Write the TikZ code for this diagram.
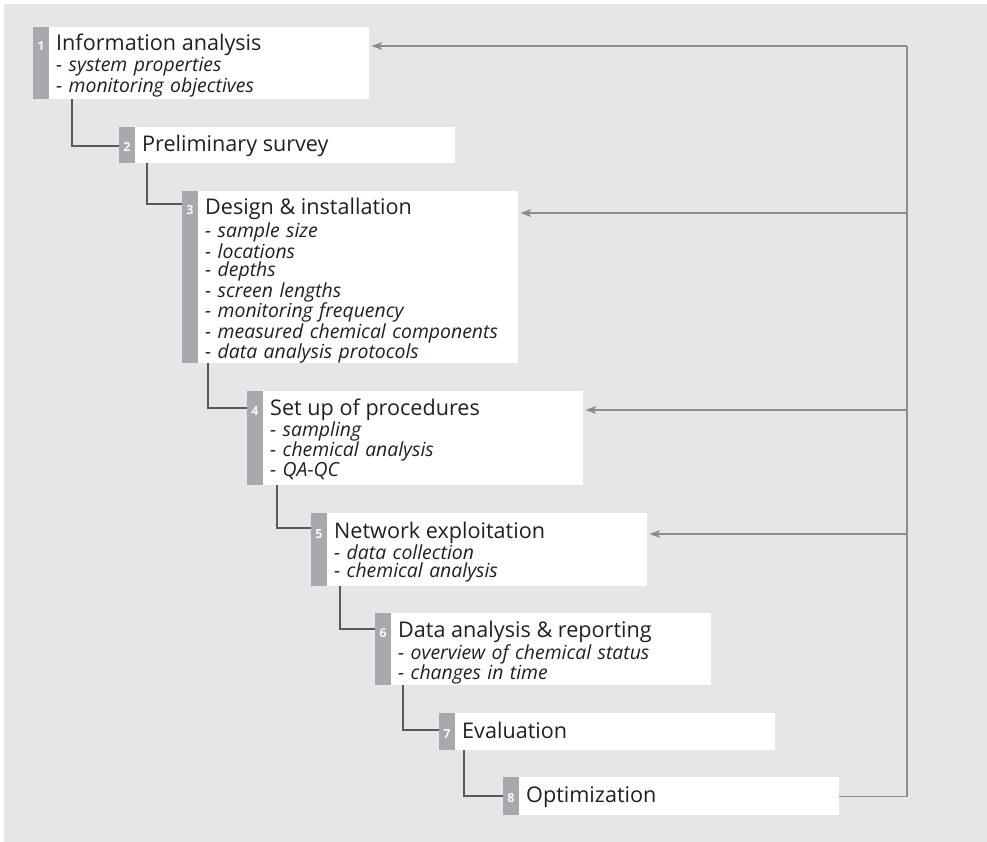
\documentclass[tikz,border=0pt]{standalone}
\usepackage{fontspec}
\setmainfont{Open Sans}
\usetikzlibrary{arrows.meta}

\definecolor{bgcol}{HTML}{E5E6E8}
\definecolor{barcol}{HTML}{A7A9AC}
\definecolor{txtcol}{HTML}{231F20}
\definecolor{linkcol}{HTML}{58595B}
\definecolor{backcol}{HTML}{8C8D90}

\begin{document}
\begin{tikzpicture}[x=1pt,y=-1pt,>={Stealth[length=11pt,width=8pt,inset=3pt]}]
  \tikzstyle{stage}=[rectangle, fill=white, anchor=north west, inner sep=0pt, minimum width=336pt,
    path picture={\fill[barcol] (path picture bounding box.north west) rectangle
      ([xshift=16pt]path picture bounding box.south west);}]
  \tikzstyle{num}=[anchor=base, inner sep=0pt, text=white!92!barcol, font=\fontsize{12.5}{14}\selectfont\bfseries]
  \tikzstyle{head}=[anchor=base west, inner sep=0pt, text=txtcol, font=\fontsize{21.6}{24}\selectfont]
  \tikzstyle{items}=[anchor=base west, inner sep=0pt, text=txtcol, text width=300pt, align=left,
    font=\fontsize{19.4}{18.4}\selectfont\itshape]
  \tikzstyle{link}=[draw=linkcol, line width=1.2pt]
  \tikzstyle{back}=[draw=backcol, line width=1.3pt]

  \useasboundingbox (0,0) rectangle (987,842);
  \fill[bgcol] (4,4) rectangle (987,842);

  % stages
  \node[stage, minimum height=72pt] (s1) at (33,27) {};
  \node[stage, minimum height=36pt] (s2) at (119,127) {};
  \node[stage, minimum height=172pt] (s3) at (182,191) {};
  \node[stage, minimum height=94pt] (s4) at (247,391) {};
  \node[stage, minimum height=73pt] (s5) at (311,513) {};
  \node[stage, minimum height=72pt] (s6) at (375,613) {};
  \node[stage, minimum height=37pt] (s7) at (439,713) {};
  \node[stage, minimum height=38pt] (s8) at (503,777) {};

  \node[num] (n1) at ([xshift=8pt,yshift=-24pt]s1.north west) {1};
  \node[num] (n2) at ([xshift=8pt,yshift=-25pt]s2.north west) {2};
  \node[num] (n3) at ([xshift=8pt,yshift=-24pt]s3.north west) {3};
  \node[num] (n4) at ([xshift=8pt,yshift=-24pt]s4.north west) {4};
  \node[num] (n5) at ([xshift=8pt,yshift=-25pt]s5.north west) {5};
  \node[num] (n6) at ([xshift=8pt,yshift=-24pt]s6.north west) {6};
  \node[num] (n7) at ([xshift=8pt,yshift=-25pt]s7.north west) {7};
  \node[num] (n8) at ([xshift=8pt,yshift=-25pt]s8.north west) {8};

  \node[head] (h1) at ([xshift=15pt]n1.base) {Information analysis};
  \node[head] (h2) at ([xshift=15pt]n2.base) {Preliminary survey};
  \node[head] (h3) at ([xshift=15pt]n3.base) {Design \& installation};
  \node[head] (h4) at ([xshift=15pt]n4.base) {Set up of procedures};
  \node[head] (h5) at ([xshift=15pt]n5.base) {Network exploitation};
  \node[head] (h6) at ([xshift=15pt]n6.base) {Data analysis \& reporting};
  \node[head] (h7) at ([xshift=15pt]n7.base) {Evaluation};
  \node[head] (h8) at ([xshift=15pt]n8.base) {Optimization};

  \node[items] (l1) at ([yshift=-21pt]h1.base west) {- system properties\\- monitoring objectives};
  \node[items] (l3) at ([yshift=-23pt]h3.base west) {- sample size\\- locations\\- depths\\- screen lengths\\
    - monitoring frequency\\- measured chemical components\\- data analysis protocols};
  \node[items] (l4) at ([yshift=-21pt]h4.base west) {- sampling\\- chemical analysis\\- QA-QC};
  \node[items] (l5) at ([yshift=-21pt]h5.base west) {- data collection\\- chemical analysis};
  \node[items] (l6) at ([yshift=-22pt]h6.base west) {- overview of chemical status\\- changes in time};

  % step links
  \draw[link] ([xshift=39pt]s1.south west) |- ([yshift=-19pt]s2.north west);
  \draw[link] ([xshift=28pt]s2.south west) |- ([yshift=-13pt]s3.north west);
  \draw[link] ([xshift=26pt]s3.south west) |- ([yshift=-17pt]s4.north west);
  \draw[link] ([xshift=30pt]s4.south west) |- ([yshift=-15pt]s5.north west);
  \draw[link] ([xshift=29pt]s5.south west) |- ([yshift=-16pt]s6.north west);
  \draw[link] ([xshift=28pt]s6.south west) |- ([yshift=-17pt]s7.north west);
  \draw[link] ([xshift=25pt]s7.south west) |- ([yshift=-19pt]s8.north west);

  % feedback
  \coordinate (r1) at (907,46);
  \coordinate (r3) at (907,213);
  \coordinate (r4) at (907,410);
  \coordinate (r5) at (907,534);
  \draw[back] (s8.east) -| (r1);
  \draw[back,->,shorten >=2pt] (r1) -- (r1 -| s1.east);
  \draw[back,->,shorten >=2pt] (r3) -- (r3 -| s3.east);
  \draw[back,->,shorten >=2pt] (r4) -- (r4 -| s4.east);
  \draw[back,->,shorten >=2pt] (r5) -- (r5 -| s5.east);
\end{tikzpicture}
\end{document}
